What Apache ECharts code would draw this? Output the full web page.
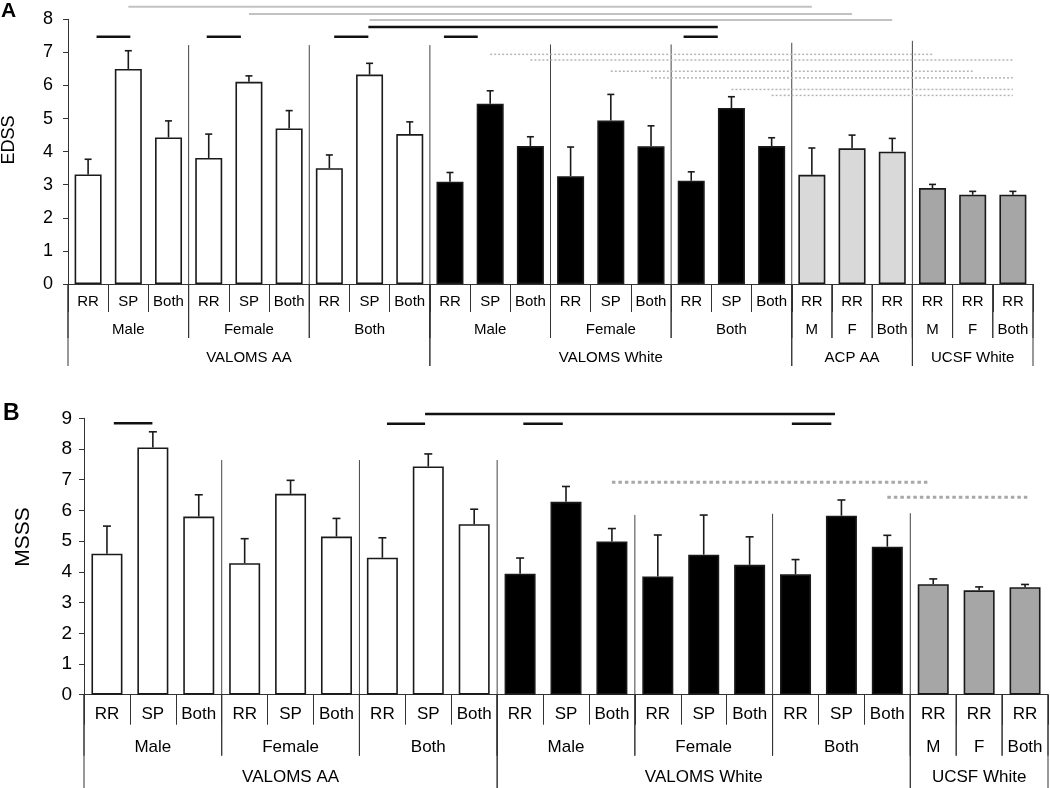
<!DOCTYPE html>
<html><head><meta charset="utf-8">
<script src="https://cdn.jsdelivr.net/npm/echarts@6/dist/echarts.min.js"></script>
<style>html,body{margin:0;padding:0;background:#fff}#c{width:1050px;height:788px}</style>
</head><body><div id="c"></div>
<script>
// ---------- Panel A : EDSS ----------
const catsA = ['RR','SP','Both','RR','SP','Both','RR','SP','Both','RR','SP','Both','RR','SP','Both','RR','SP','Both','RR','RR','RR','RR','RR','RR'];
const meanA = [3.31,6.50,4.43, 3.81,6.11,4.70, 3.50,6.33,4.53, 3.09,5.45,4.17, 3.26,4.94,4.16, 3.12,5.32,4.17, 3.30,4.10,4.00, 2.90,2.70,2.70];
const errTopA = [3.77,7.05,4.93, 4.53,6.29,5.24, 3.90,6.67,4.90, 3.37,5.84,4.45, 4.14,5.73,4.78, 3.39,5.66,4.42, 4.11,4.50,4.40, 3.01,2.80,2.80];
const groupA2 = [['Male',0,3],['Female',3,6],['Both',6,9],['Male',9,12],['Female',12,15],['Both',15,18],['M',18,19],['F',19,20],['Both',20,21],['M',21,22],['F',22,23],['Both',23,24]];
const groupA3 = [['VALOMS AA',0,9],['VALOMS White',9,18],['ACP AA',18,21],['UCSF White',21,24]];
const yTicksA = [0,1,2,3,4,5,6,7,8];
// significance lines: [from (category units), to, y value]
const sigBlackA = [[0.71,1.55,7.47],[3.45,4.30,7.47],[6.62,7.47,7.47],[9.35,10.19,7.47],[15.31,16.16,7.47],[7.47,16.16,7.77]];
const sigGrayA = [[1.5,18.5,8.38],[4.5,19.5,8.16],[7.5,20.5,7.98]];
const sigDotA = [[10.5,21.5,6.94],[11.5,23.5,6.77],[13.5,22.5,6.43],[14.5,23.5,6.23],[16.5,23.5,5.88],[17.5,23.5,5.70]];
const dividerA = [[3,7.22],[6,7.22],[9,7.22],[12,7.24],[15,7.24],[18,7.29],[21,7.35]];

// ---------- Panel B : MSSS ----------
const catsB = ['RR','SP','Both','RR','SP','Both','RR','SP','Both','RR','SP','Both','RR','SP','Both','RR','SP','Both','RR','RR','RR'];
const meanB = [4.59,8.05,5.80, 4.28,6.54,5.15, 4.46,7.43,5.55, 3.94,6.28,4.99, 3.85,4.56,4.23, 3.92,5.83,4.82, 3.60,3.40,3.50];
const errTopB = [5.49,8.56,6.51, 5.08,6.98,5.74, 5.11,7.84,6.04, 4.45,6.78,5.41, 5.20,5.85,5.14, 4.40,6.34,5.19, 3.77,3.51,3.59];
const groupB2 = [['Male',0,3],['Female',3,6],['Both',6,9],['Male',9,12],['Female',12,15],['Both',15,18],['M',18,19],['F',19,20],['Both',20,21]];
const groupB3 = [['VALOMS AA',0,9],['VALOMS White',9,18],['UCSF White',18,21]];
const yTicksB = [0,1,2,3,4,5,6,7,8,9];
const sigBlackB = [[0.65,1.49,8.84],[6.60,7.43,8.82],[9.57,10.43,8.82],[15.42,16.28,8.82],[7.43,16.36,9.14]];
const sigGrayB = [];
const sigDotB = [[11.5,18.4,6.92],[17.5,20.6,6.43]];
const dividerB = [[3,7.64],[6,7.64],[9,7.64],[12,5.85],[15,5.89],[18,5.91]];

const FONT = 'Liberation Sans, Arial, sans-serif';
const COHORT_FILL = {'VALOMS AA':'#ffffff','VALOMS White':'#000000','ACP AA':'#d9d9d9','UCSF White':'#a6a6a6'};
function fillFor(i, g3){ for (const g of g3) if (i>=g[1] && i<g[2]) return COHORT_FILL[g[0]]; return '#fff'; }

const panels = [
  {grid:{left:68,right:17,top:19.3,height:264.7}, cats:catsA, mean:meanA, top:errTopA, g2:groupA2, g3:groupA3, yTicks:yTicksA,
   black:sigBlackA, gray:sigGrayA, dot:sigDotA, div:dividerA,
   barWidth:27, labFont:15, l1Margin:10, tickLen:28, l2Off:46, l2Depth:54, l3Off:74, l3Depth:82, yFont:18, yMargin:15,
   dotWidth:1.5, dotDash:[2,2], dotColor:'#b5b5b5', grayWidth:2, blackWidth:2.5, cap:3.5},
  {grid:{left:84,right:2,top:418.3,height:276.4}, cats:catsB, mean:meanB, top:errTopB, g2:groupB2, g3:groupB3, yTicks:yTicksB,
   black:sigBlackB, gray:sigGrayB, dot:sigDotB, div:dividerB,
   barWidth:31, labFont:17, l1Margin:11, tickLen:30, l2Off:53, l2Depth:61, l3Off:83, l3Depth:100, yFont:19, yMargin:12,
   dotWidth:3, dotDash:[3.5,3], dotColor:'#a8a8a8', grayWidth:2, blackWidth:2.5, cap:4}
];

const grids=[], xAxes=[], yAxes=[], series=[];
panels.forEach((p,k)=>{
  grids.push(p.grid);
  const yMax = p.yTicks[p.yTicks.length-1];
  xAxes.push({type:'category', gridIndex:k, data:p.cats, boundaryGap:true,
    axisLine:{show:true, lineStyle:{color:'#333', width:1}},
    axisTick:{show:true, interval:0, length:p.tickLen, alignWithLabel:false, lineStyle:{color:'#333', width:1}},
    axisLabel:{interval:0, fontSize:p.labFont, fontFamily:FONT, color:'#000', margin:p.l1Margin},
    splitLine:{show:false}});
  xAxes.push({type:'value', gridIndex:k, min:0, max:p.cats.length, show:false});
  yAxes.push({type:'value', gridIndex:k, min:p.yTicks[0], max:yMax, interval:1,
    axisLine:{show:true, lineStyle:{color:'#333', width:1}},
    axisTick:{show:true, length:5, lineStyle:{color:'#333'}},
    axisLabel:{fontSize:p.yFont, fontFamily:FONT, color:'#000', margin:p.yMargin},
    splitLine:{show:false}});
  const cx = 2*k, vx = 2*k+1;
  // bars
  series.push({type:'bar', xAxisIndex:cx, yAxisIndex:k, barWidth:p.barWidth, silent:true, z:3,
    itemStyle:{borderColor:'#1a1a1a', borderWidth:1.6},
    data:p.mean.map((v,i)=>({value:v, itemStyle:{color:fillFor(i,p.g3)}}))});
  // error bars
  series.push({type:'custom', xAxisIndex:cx, yAxisIndex:k, silent:true, z:4,
    data:p.mean.map((v,i)=>[i,v,p.top[i]]),
    renderItem:(params,api)=>{
      const a = api.coord([api.value(0), api.value(1)]);
      const b = api.coord([api.value(0), api.value(2)]);
      const st = {stroke:'#1a1a1a', lineWidth:1.6};
      return {type:'group', children:[
        {type:'line', shape:{x1:a[0],y1:a[1],x2:b[0],y2:b[1]}, style:st},
        {type:'line', shape:{x1:b[0]-p.cap,y1:b[1],x2:b[0]+p.cap,y2:b[1]}, style:st}]};
    }});
  // in-plot group dividers
  series.push({type:'custom', xAxisIndex:vx, yAxisIndex:k, silent:true, z:2, data:p.div,
    renderItem:(params,api)=>{
      const a = api.coord([api.value(0),0]), b = api.coord([api.value(0),api.value(1)]);
      return {type:'line', shape:{x1:a[0],y1:a[1],x2:b[0],y2:b[1]}, style:{stroke:'#444', lineWidth:1}};
    }});
  // significance lines
  const sigSeries = (data, stroke, width, dash)=>({type:'custom', xAxisIndex:vx, yAxisIndex:k, silent:true, clip:false, z:5, data:data,
    renderItem:(params,api)=>{
      const a = api.coord([api.value(0),api.value(2)]), b = api.coord([api.value(1),api.value(2)]);
      const st = {stroke:stroke, lineWidth:width};
      if (dash) st.lineDash = dash;
      return {type:'line', shape:{x1:a[0],y1:a[1],x2:b[0],y2:b[1]}, style:st};
    }});
  series.push(sigSeries(p.gray, '#c2c2c2', p.grayWidth, null));
  series.push(sigSeries(p.dot, p.dotColor, p.dotWidth, p.dotDash));
  series.push(sigSeries(p.black, '#111', p.blackWidth, null));
  // hierarchical category labels (levels 2 and 3)
  const labData = p.g2.map((g,i)=>[g[1],g[2],2,i]).concat(p.g3.map((g,i)=>[g[1],g[2],3,i]));
  series.push({type:'custom', xAxisIndex:vx, yAxisIndex:k, silent:true, clip:false, z:5, data:labData,
    renderItem:(params,api)=>{
      const lvl = api.value(2), idx = api.value(3);
      const name = (lvl===2 ? p.g2 : p.g3)[idx][0];
      const a = api.coord([api.value(0),0]), b = api.coord([api.value(1),0]);
      const y0 = a[1];
      const off = lvl===2 ? p.l2Off : p.l3Off, depth = lvl===2 ? p.l2Depth : p.l3Depth;
      const st = {stroke:'#333', lineWidth:1};
      return {type:'group', children:[
        {type:'line', shape:{x1:a[0],y1:y0,x2:a[0],y2:y0+depth}, style:st},
        {type:'line', shape:{x1:b[0],y1:y0,x2:b[0],y2:y0+depth}, style:st},
        {type:'text', x:(a[0]+b[0])/2, y:y0+off, style:{text:name, fill:'#000', fontSize:p.labFont, fontFamily:FONT,
          align:'center', verticalAlign:'middle', textAlign:'center', textVerticalAlign:'middle'}}]};
    }});
});

const chart = echarts.init(document.getElementById('c'));
chart.setOption({
  animation:false,
  backgroundColor:'#fff',
  grid:grids, xAxis:xAxes, yAxis:yAxes, series:series,
  graphic:[
    {type:'text', left:1, top:1, style:{text:'A', font:'bold 21px '+FONT, fill:'#000'}},
    {type:'text', left:3, top:402, style:{text:'B', font:'bold 23px '+FONT, fill:'#000'}},
    {type:'text', x:9, y:140, rotation:Math.PI/2, style:{text:'EDSS', font:'18px '+FONT, fill:'#000', align:'center', verticalAlign:'middle'}},
    {type:'text', x:23, y:537, rotation:Math.PI/2, style:{text:'MSSS', font:'21px '+FONT, fill:'#000', align:'center', verticalAlign:'middle'}}
  ]
});
</script></body></html>
